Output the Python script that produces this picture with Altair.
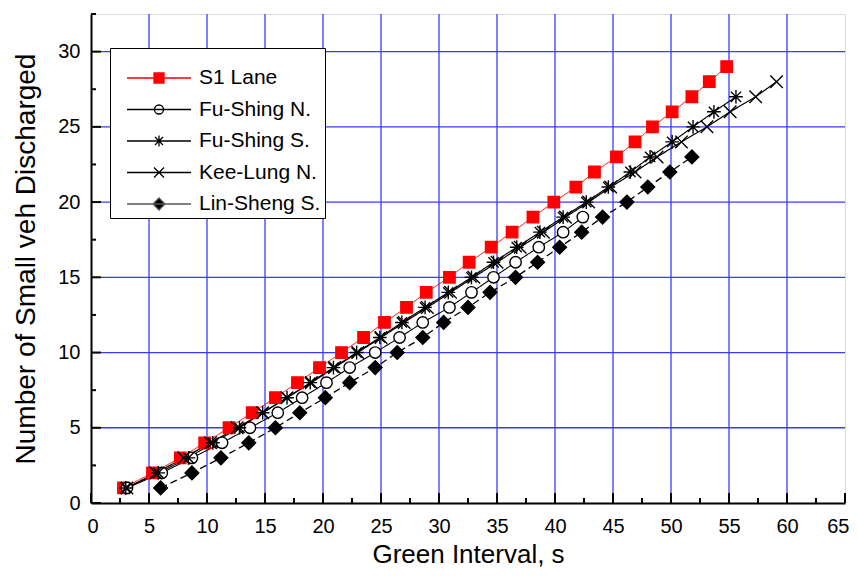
import altair as alt
import pandas as pd

series = ["S1 Lane", "Fu-Shing N.", "Fu-Shing S.", "Kee-Lung N.", "Lin-Sheng S."]

s1_x = [2.8, 5.3, 7.7, 9.8, 11.9, 13.9, 15.9, 17.8, 19.7, 21.6, 23.5, 25.3, 27.2, 28.9, 30.9,
        32.6, 34.5, 36.3, 38.1, 39.9, 41.8, 43.4, 45.3, 46.9, 48.4, 50.1, 51.8, 53.3, 54.8]
s1_y = [1, 2, 3, 4, 5, 6, 7, 8, 9, 10, 11, 12, 13, 14, 15, 16, 17, 18, 19, 20, 21, 22, 23, 24, 25,
        26, 27, 28, 29]

fsn_x = [3.1, 6.1, 8.7, 11.3, 13.7, 16.1, 18.2, 20.3, 22.3, 24.5, 26.6, 28.6, 30.9, 32.8, 34.7,
         36.6, 38.6, 40.7, 42.4]
fsn_y = [1, 2, 3, 4, 5, 6, 7, 8, 9, 10, 11, 12, 13, 14, 15, 16, 17, 18, 19]

fss_x = [3.0, 5.8, 8.4, 10.5, 12.8, 14.8, 16.9, 18.9, 20.9, 22.9, 24.9, 26.8, 28.8, 30.8, 32.8,
         34.7, 36.7, 38.7, 40.7, 42.7, 44.6, 46.5, 48.2, 50.1, 51.9, 53.7, 55.6]
fss_y = [1, 2, 3, 4, 5, 6, 7, 8, 9, 10, 11, 12, 13, 14, 15, 16, 17, 18, 19, 20, 21, 22, 23, 24,
         25, 26, 27]

kln_x = [3.1, 5.6, 8.0, 10.3, 12.6, 14.8, 16.9, 19.0, 21.0, 23.0, 25.0, 27.0, 29.0, 31.0, 33.0,
         35.0, 37.0, 39.0, 40.9, 42.9, 44.8, 46.9, 48.8, 50.9, 53.1, 55.1, 57.3, 59.1]
kln_y = [1, 2, 3, 4, 5, 6, 7, 8, 9, 10, 11, 12, 13, 14, 15, 16, 17, 18, 19, 20, 21, 22, 23, 24,
         25, 26, 27, 28]

lss_x = [6.0, 8.7, 11.2, 13.6, 15.9, 18.0, 20.2, 22.3, 24.5, 26.4, 28.6, 30.4, 32.5, 34.4, 36.6,
         38.5, 40.4, 42.3, 44.1, 46.2, 48.0, 49.9, 51.8]
lss_y = [1, 2, 3, 4, 5, 6, 7, 8, 9, 10, 11, 12, 13, 14, 15, 16, 17, 18, 19, 20, 21, 22, 23]

x_major = [0, 5, 10, 15, 20, 25, 30, 35, 40, 45, 50, 55, 60, 65]
x_minor = [2.5, 7.5, 12.5, 17.5, 22.5, 27.5, 32.5, 37.5, 42.5, 47.5, 52.5, 57.5, 62.5]
y_major = [0, 5, 10, 15, 20, 25, 30]
y_minor = [2.5, 7.5, 12.5, 17.5, 22.5, 27.5, 32.5]
grid_x = [5, 10, 15, 20, 25, 30, 35, 40, 45, 50, 55, 60]
grid_y = [5, 10, 15, 20, 25, 30]
x_dom = [0, 65]
y_dom = [0, 32.5]

rows = []
for name, xs, ys in zip(series, [s1_x, fsn_x, fss_x, kln_x, lss_x], [s1_y, fsn_y, fss_y, kln_y, lss_y]):
    for i, (xv, yv) in enumerate(zip(xs, ys)):
        rows.append({"series": name, "green": xv, "veh": yv, "ord": i})
df = pd.DataFrame(rows)

W, H = 754, 489
FONT = "Liberation Sans"

xs_ = alt.Scale(domain=x_dom, nice=False, zero=False)
ys_ = alt.Scale(domain=y_dom, nice=False, zero=False)

AX = alt.Axis(
    values=x_major, ticks=False, grid=False, domainColor="black", domainWidth=2,
    labelFont=FONT, labelFontSize=20, labelColor="black", labelPadding=13,
    labelFlush=True, labelFlushOffset=4, labelOverlap=False,
    title="Green Interval, s", titleFont=FONT, titleFontSize=26, titleFontWeight="normal",
    titleColor="black", titlePadding=5)
AY = alt.Axis(
    values=y_major, ticks=False, grid=False, domainColor="black", domainWidth=2,
    labelFont=FONT, labelFontSize=20, labelColor="black", labelPadding=11, labelFlush=False,
    labelOverlap=False,
    title="Number of Small veh Discharged", titleFont=FONT, titleFontSize=28,
    titleFontWeight="normal", titleColor="black", titlePadding=17)


def X():
    return alt.X("green:Q", scale=xs_, axis=AX)


def Y():
    return alt.Y("veh:Q", scale=ys_, axis=AY)


# marker paths for plot points
pt_paths = [
    "M-1,-1H1V1H-1Z",
    "M1,0A1,1 0 1 1 -1,0A1,1 0 1 1 1,0Z",
    "M0,-1.2V1.2M-1.2,0H1.2M-0.9,-0.9L0.9,0.9M-0.9,0.9L0.9,-0.9",
    "M-1.1,-1.1L1.1,1.1M-1.1,1.1L1.1,-1.1",
    "M0,-1.2L1.2,0L0,1.2L-1.2,0Z",
]
# legend paths: connecting line + marker (1 unit = 10 px)
LN = "M-3.2,0H3.2"
leg_paths = [
    LN + "M-0.5,-0.5H0.5V0.5H-0.5Z",
    LN + "M0.45,0A0.45,0.45 0 1 1 -0.45,0A0.45,0.45 0 1 1 0.45,0Z",
    LN + "M0,-0.55V0.55M-0.4,-0.4L0.4,0.4M-0.4,0.4L0.4,-0.4",
    LN + "M-0.5,-0.5L0.5,0.5M-0.5,0.5L0.5,-0.5",
    LN + "M0,-0.6L0.6,0L0,0.6L-0.6,0Z",
]
fills = ["#ff0000", "#ffffff", "transparent", "transparent", "#000000"]
strokes = ["#ff0000", "#000000", "#000000", "#000000", "#000000"]
leg_strokes = ["#ff0000", "#000000", "#000000", "#000000", "#555555"]
dashes = [[1, 0], [1, 0], [1, 0], [1, 0], [7, 4]]
widths = [1.0, 1.3, 1.3, 1.3, 1.0]

gx = alt.Chart(pd.DataFrame({"green": grid_x})).mark_rule(color="#3a3aff", strokeWidth=1.3).encode(
    x=X())
gy = alt.Chart(pd.DataFrame({"veh": grid_y})).mark_rule(color="#3a3aff", strokeWidth=1.3).encode(
    y=Y())

txm = alt.Chart(pd.DataFrame({"green": x_major})).mark_rule(color="black", strokeWidth=2).encode(
    x=X(), y=alt.value(H), y2=alt.value(H - 10))
txn = alt.Chart(pd.DataFrame({"green": x_minor})).mark_rule(color="black", strokeWidth=2).encode(
    x=X(), y=alt.value(H), y2=alt.value(H - 5))
tym = alt.Chart(pd.DataFrame({"veh": y_major})).mark_rule(color="black", strokeWidth=2).encode(
    y=Y(), x=alt.value(0), x2=alt.value(10))
tyn = alt.Chart(pd.DataFrame({"veh": y_minor})).mark_rule(color="black", strokeWidth=2).encode(
    y=Y(), x=alt.value(0), x2=alt.value(5))

lines = alt.Chart(df).mark_line().encode(
    x=X(), y=Y(),
    stroke=alt.Stroke("series:N", scale=alt.Scale(domain=series, range=strokes), legend=None),
    strokeDash=alt.StrokeDash("series:N", scale=alt.Scale(domain=series, range=dashes), legend=None),
    strokeWidth=alt.StrokeWidth("series:N", scale=alt.Scale(domain=series, range=widths), legend=None),
    order="ord:Q",
)

points = alt.Chart(df).mark_point(filled=True, size=130, strokeWidth=1.4, opacity=1).encode(
    x=X(), y=Y(),
    shape=alt.Shape("series:N", scale=alt.Scale(domain=series, range=pt_paths), legend=None),
    fill=alt.Fill("series:N", scale=alt.Scale(domain=series, range=fills), legend=None),
    stroke=alt.Stroke("series:N", scale=alt.Scale(domain=series, range=strokes), legend=None),
)

leg = alt.Legend(
    orient="none", legendX=19, legendY=34, title=" ", titleFontSize=10, titlePadding=5,
    strokeColor="black", fillColor="white", padding=4,
    labelFont=FONT, labelFontSize=21, labelColor="black", labelOffset=29,
    symbolSize=400, symbolStrokeWidth=1.3, rowPadding=10.5, symbolOffset=34,
)
legend_layer = alt.Chart(df).transform_filter("false").mark_point(
    filled=True, size=400, strokeWidth=1.3, opacity=1).encode(
    x=X(), y=Y(),
    shape=alt.Shape("series:N", scale=alt.Scale(domain=series, range=leg_paths), legend=leg, sort=series),
    fill=alt.Fill("series:N", scale=alt.Scale(domain=series, range=fills), legend=leg, sort=series),
    stroke=alt.Stroke("series:N", scale=alt.Scale(domain=series, range=leg_strokes), legend=leg, sort=series),
)

chart = alt.layer(gx, gy, lines, points, txm, txn, tym, tyn, legend_layer).resolve_scale(
    shape="independent", fill="independent", stroke="independent",
    strokeDash="independent", strokeWidth="independent",
).properties(
    width=W, height=H,
    autosize=alt.AutoSizeParams(type="none"),
    padding={"left": 83, "top": 6, "right": 5, "bottom": 65},
).configure_view(stroke="#555555", strokeWidth=1.5).configure(background="white")

chart.save("out.html", embed_options={"renderer": "svg", "actions": False})
